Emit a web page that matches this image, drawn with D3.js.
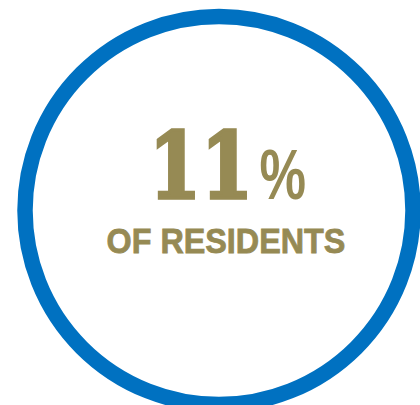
<!DOCTYPE html>
<html><head><meta charset="utf-8">
<script src="https://cdn.jsdelivr.net/npm/d3@7"></script>
<style>html,body{margin:0;padding:0;background:#fff;overflow:hidden}</style>
</head><body>
<svg id="c" width="420" height="405"></svg>
<script>
const values = [11];
const unitLabels = ["%"];
const captions = ["OF RESIDENTS"];

const svg = d3.select("#c");
const blue = "#0071C1", gold = "#968A54";
const cx = 219, cy = 210.5;

svg.append("circle").attr("cx", cx).attr("cy", cy).attr("r", 194)
  .attr("fill", "#fff").attr("stroke", blue).attr("stroke-width", 15.5);

// place a text so its natural advance width is squeezed to a target width
function fitText(sel, x, y, w) {
  sel.each(function() {
    const nat = this.getComputedTextLength();
    const sx = w / nat;
    d3.select(this).attr("transform", `translate(${x},${y}) scale(${sx},1)`);
  });
}

const fmt = d3.format("d");
svg.selectAll("text.val").data(values).join("text").attr("class","val")
  .attr("font-family", "'DejaVu Serif', 'Liberation Serif', serif").attr("font-weight", "bold")
  .attr("font-size", 92).attr("fill", gold)
  .attr("stroke", gold).attr("stroke-width", 3.5).attr("stroke-linejoin", "miter")
  .text(d => fmt(d))
  .call(fitText, 149, 197.5, 104);

svg.selectAll("text.unit").data(unitLabels).join("text").attr("class","unit")
  .attr("font-family", "Liberation Sans").attr("font-weight", "bold")
  .attr("font-size", 70).attr("fill", gold)
  .text(d => d)
  .call(fitText, 259.5, 199, 46.5);

svg.selectAll("text.cap").data(captions).join("text").attr("class","cap")
  .attr("font-family", "Liberation Sans").attr("font-weight", "bold")
  .attr("font-size", 35).attr("fill", gold)
  .attr("stroke", gold).attr("stroke-width", 0.8)
  .text(d => d)
  .call(fitText, 106.5, 253, 239);
</script>
</body></html>
